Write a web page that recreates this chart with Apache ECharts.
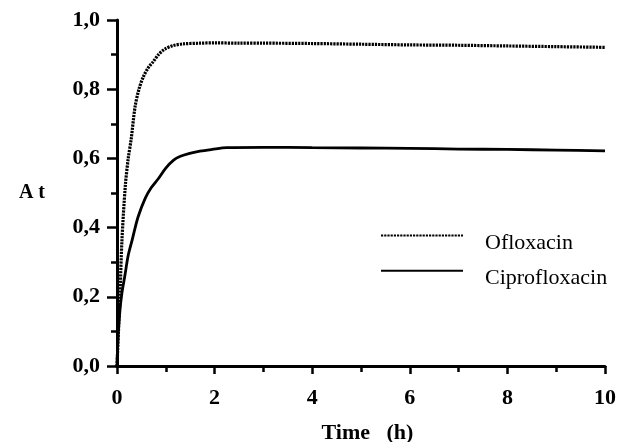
<!DOCTYPE html>
<html>
<head>
<meta charset="utf-8">
<script src="https://cdn.jsdelivr.net/npm/echarts@6/dist/echarts.min.js"></script>
<style>
  html, body { margin: 0; padding: 0; background: #fff; }
  #chart { width: 618px; height: 442px; }
</style>
</head>
<body>
<div id="chart"></div>
<script>
// Absorbance At against time (h)
const seriesNames = ['Ofloxacin', 'Ciprofloxacin'];

const oflTime = [0, 0.03, 0.06, 0.1, 0.17, 0.23, 0.29, 0.37, 0.45, 0.54, 0.64, 0.74, 0.85, 0.98, 1.15, 1.36, 1.7, 2.0, 2.5, 3, 4, 5, 6, 7, 8, 9, 10];
const oflValue = [0, 0.1, 0.2, 0.36, 0.52, 0.6, 0.655, 0.749, 0.8, 0.836, 0.862, 0.879, 0.9, 0.916, 0.926, 0.931, 0.933, 0.934, 0.933, 0.933, 0.932, 0.93, 0.928, 0.927, 0.925, 0.923, 0.921];

const ciproTime = [0, 0.02, 0.06, 0.1, 0.16, 0.23, 0.31, 0.43, 0.58, 0.7, 0.85, 1.0, 1.16, 1.3, 1.47, 1.7, 1.95, 2.25, 3, 4, 5, 6, 7, 8, 9, 10];
const ciproValue = [0, 0.08, 0.16, 0.21, 0.26, 0.32, 0.364, 0.43, 0.485, 0.515, 0.542, 0.572, 0.595, 0.606, 0.614, 0.621, 0.626, 0.631, 0.632, 0.631, 0.63, 0.629, 0.627, 0.626, 0.624, 0.622];

const xTicks = [0, 2, 4, 6, 8, 10];
const yTicks = [0, 0.2, 0.4, 0.6, 0.8, 1.0];

const pair = (xs, ys) => xs.map((x, i) => [x, ys[i]]);
const serif = 'Liberation Serif, Times New Roman, serif';

const chart = echarts.init(document.getElementById('chart'), null, { renderer: 'canvas' });
chart.setOption({
  backgroundColor: '#fff',
  animation: false,
  grid: { left: 117, right: 13, top: 20, bottom: 76, containLabel: false, outerBoundsMode: 'none' },
  legend: {
    orient: 'vertical',
    left: 375,
    top: 225,
    itemWidth: 82,
    itemHeight: 14,
    itemGap: 11,
    data: seriesNames,
    itemStyle: { opacity: 0 },
    formatter: name => '{n|' + name + '}',
    textStyle: {
      fontFamily: serif, fontSize: 22, color: '#000',
      rich: { n: { fontFamily: serif, fontSize: 22, color: '#000', padding: [15, 0, 0, 17] } }
    }
  },
  xAxis: {
    type: 'value',
    min: 0, max: 10, interval: 2,
    name: 'Time   (h)',
    nameLocation: 'middle',
    nameGap: 56,
    nameTextStyle: { fontFamily: serif, fontSize: 22, fontWeight: 'bold', color: '#000', padding: [0, 0, 0, 13] },
    axisLine: { onZero: false, lineStyle: { color: '#000', width: 3 } },
    axisTick: { show: true, inside: false, length: 8, lineStyle: { width: 2.5, color: '#000' } },
    minorTick: { show: true, splitNumber: 2, length: 6, lineStyle: { width: 2.5, color: '#000' } },
    splitLine: { show: false },
    axisLabel: {
      margin: 21, fontFamily: serif, fontSize: 22, fontWeight: 'bold', color: '#000',
      formatter: v => xTicks.includes(v) ? String(v) : ''
    }
  },
  yAxis: {
    type: 'value',
    min: 0, max: 1, interval: 0.2,
    name: 'A t',
    nameLocation: 'middle',
    nameRotate: 0,
    nameGap: 72,
    nameTextStyle: { fontFamily: serif, fontSize: 20, fontWeight: 'bold', color: '#000' },
    axisLine: { show: true, lineStyle: { color: '#000', width: 3 } },
    axisTick: { show: true, inside: false, length: 10, lineStyle: { width: 2.5, color: '#000' } },
    minorTick: { show: true, splitNumber: 2, length: 6, lineStyle: { width: 2.5, color: '#000' } },
    splitLine: { show: false },
    axisLabel: {
      margin: 17, fontFamily: serif, fontSize: 22, fontWeight: 'bold', color: '#000',
      formatter: v => yTicks.some(t => Math.abs(t - v) < 1e-9) ? v.toFixed(1).replace('.', ',') : ''
    }
  },
  series: [
    {
      name: seriesNames[0],
      type: 'line',
      data: pair(oflTime, oflValue),
      smooth: 0.3,
      showSymbol: false,
      symbol: 'none',
      lineStyle: { color: '#000', width: 3.2, type: [2.2, 1] },
      itemStyle: { color: '#000' }
    },
    {
      name: seriesNames[1],
      type: 'line',
      data: pair(ciproTime, ciproValue),
      smooth: 0.3,
      showSymbol: false,
      symbol: 'none',
      lineStyle: { color: '#000', width: 2.8, type: 'solid' },
      itemStyle: { color: '#000' }
    }
  ]
});
</script>
</body>
</html>
